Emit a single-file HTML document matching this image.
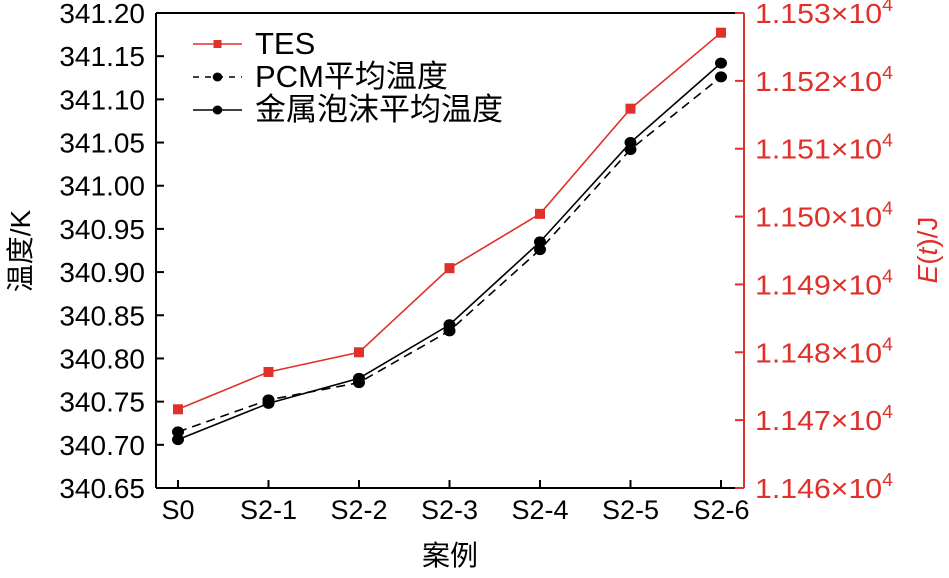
<!DOCTYPE html>
<html><head><meta charset="utf-8"><style>
body{margin:0;background:#fff}
svg text{font-family:"Liberation Sans","Noto Sans CJK SC",sans-serif}
</style></head><body>
<svg id="chart" width="949" height="573" xmlns="http://www.w3.org/2000/svg"></svg>
<script>
const categories=["S0","S2-1","S2-2","S2-3","S2-4","S2-5","S2-6"];
const tesValues=[11471.6,11477.1,11480.0,11492.4,11500.4,11515.9,11527.1];
const pcmValues=[340.715,340.752,340.772,340.832,340.926,341.042,341.126];
const foamValues=[340.706,340.748,340.777,340.839,340.935,341.050,341.142];
const leftTicks=[340.65,340.70,340.75,340.80,340.85,340.90,340.95,341.00,341.05,341.10,341.15,341.20];
const rightTicks=[1.146,1.147,1.148,1.149,1.150,1.151,1.152,1.153];

const svg=document.getElementById('chart');
const NS="http://www.w3.org/2000/svg";
const L=156,R=744,T=13,B=488;
const x0=178,dx=90.5;
function xs(i){return x0+i*dx;}
function yl(v){return B-(v-340.65)/0.55*(B-T);}
function yr(v){return B-(v-11460)/70*(B-T);}
function mk(tag,attrs,parent){const e=document.createElementNS(NS,tag);for(const k in attrs)e.setAttribute(k,attrs[k]);(parent||svg).appendChild(e);return e;}

let e;
e=mk('line',{x1:L,y1:T,x2:R,y2:T,stroke:'#000','stroke-width':2});


e=mk('line',{x1:L,y1:B,x2:R,y2:B,stroke:'#000','stroke-width':2});


e=mk('line',{x1:L,y1:T,x2:L,y2:B,stroke:'#000','stroke-width':2});


e=mk('line',{x1:R,y1:T,x2:R,y2:B,stroke:'#e0302a','stroke-width':2});



leftTicks.forEach(v=>{
  const y=yl(v);
  e=mk('line',{x1:L,y1:y,x2:L+8,y2:y,stroke:'#000','stroke-width':2});
  
  
  e=mk('text',{x:L-11,y:y+10,'text-anchor':'end','font-size':28,fill:'#000'});
  e.textContent=v.toFixed(2);
  
  
});
rightTicks.forEach(v=>{
  const y=yr(v*10000);
  e=mk('line',{x1:R-9,y1:y,x2:R,y2:y,stroke:'#e0302a','stroke-width':2});
  
  
  e=mk('text',{x:R+11,y:y+10,'font-size':28,fill:'#e0302a',textLength:138,lengthAdjust:'spacingAndGlyphs'});
  
  
  e.innerHTML=v.toFixed(3)+'×10<tspan dy="-12" font-size="18">4</tspan>';
});
categories.forEach((c,i)=>{
  const x=xs(i);
  e=mk('line',{x1:x,y1:B-8,x2:x,y2:B,stroke:'#000','stroke-width':2});
  
  
  e=mk('text',{x:x,y:B+31,'text-anchor':'middle','font-size':27});
  e.textContent=c;
  
  
});

function series(vals,yf,color,dash,marker,name){
  const pts=vals.map((v,i)=>xs(i)+','+yf(v)).join(' ');
  e=mk('polyline',{points:pts,fill:'none',stroke:color,'stroke-width':1.6,'stroke-dasharray':dash});
  
  
  vals.forEach((v,i)=>{
    if(marker==='sq'){e=mk('rect',{x:xs(i)-5,y:yf(v)-5,width:10,height:10,fill:color});}
    else{e=mk('ellipse',{cx:xs(i),cy:yf(v),rx:6,ry:5.5,fill:color});}
    
    
  });
}
series(tesValues,yr,'#e0302a','','sq','tes');
series(pcmValues,yl,'#000','9,6','c','pcm');
series(foamValues,yl,'#000','','c','foam');

const lg=[['TES','#e0302a','','sq',44],['PCM平均温度','#000','6,6','c',77],['金属泡沫平均温度','#000','','c',110]];
lg.forEach(l=>{
  e=mk('line',{x1:193,y1:l[4],x2:242,y2:l[4],stroke:l[1],'stroke-width':1.6,'stroke-dasharray':l[2]});
  
  
  if(l[3]==='sq')e=mk('rect',{x:213.5,y:l[4]-4,width:8,height:8,fill:l[1]});
  else e=mk('ellipse',{cx:217.5,cy:l[4],rx:4.8,ry:4.5,fill:l[1]});
  
  
  e=mk('text',{x:255,y:l[4]+10,'font-size':31});
  e.textContent=l[0];
  
  
});

e=mk('text',{x:450,y:565,'text-anchor':'middle','font-size':28});
e.textContent='案例';


e=mk('text',{x:0,y:0,'text-anchor':'middle','font-size':28,transform:'translate(30,251) rotate(-90)'});
e.textContent='温度/K';


e=mk('text',{x:0,y:0,'text-anchor':'middle','font-size':28,fill:'#e0302a',transform:'translate(937,250) rotate(-90)'});
e.innerHTML='<tspan font-style="italic">E</tspan>(<tspan font-style="italic">t</tspan>)/J';


</script>
</body></html>
